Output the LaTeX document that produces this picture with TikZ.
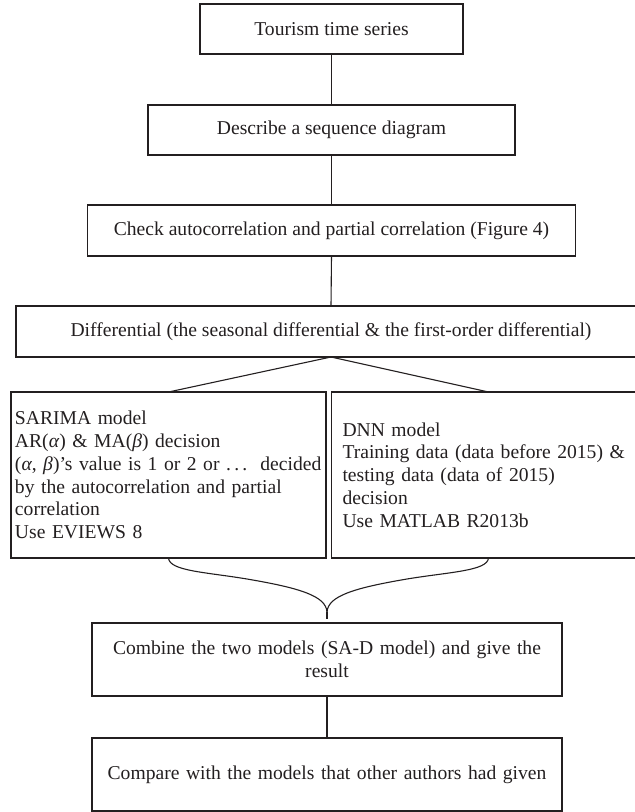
\documentclass[tikz,border=0pt]{standalone}
\usepackage{fontspec}
\setmainfont{Liberation Serif}
\definecolor{ink}{RGB}{35,31,32}
\begin{document}
\begin{tikzpicture}[x=1pt,y=-1pt,
  box/.style={draw=ink, line width=1.1pt, inner sep=0pt, outer sep=0pt, text=ink,
    font=\fontsize{19.6}{22.8}\selectfont, align=center},
  lbox/.style={box, align=left, minimum height=166pt},
  conn/.style={draw=ink, line width=1.1pt}]
\useasboundingbox (0,0) rectangle (635,812);
\clip (0,0) rectangle (635,812);
\node[box, minimum width=263pt, minimum height=50pt] (b1) at (331.5,29) {Tourism time series};
\node[box, minimum width=367pt, minimum height=50pt] (b2) at (331.5,130) {Describe a sequence diagram};
\node[box, minimum width=488pt, minimum height=51pt] (b3) at (331.5,230.5) {Check autocorrelation and partial correlation (Figure 4)};
\node[box, minimum width=630pt, minimum height=51pt] (b4) at (331,331.5) {Differential (the seasonal differential \& the first-order differential)};
\node[lbox, inner xsep=4pt, text width=307pt] (sar) at (168.5,475) {SARIMA model\\
AR(\textit{α}) \& MA(\textit{β}) decision\\
(\textit{α}, \textit{β})’s value is 1 or 2 or .\,.\,.\ \ decided\\
by the autocorrelation and partial\\
correlation\\
Use EVIEWS 8};
\node[lbox, inner xsep=11pt, text width=292pt] (dnn) at (488.5,475) {DNN model\\
Training data (data before 2015) \&\\
testing data (data of 2015)\\
decision\\
Use MATLAB R2013b};
\node[box, minimum width=470pt, minimum height=73pt, text width=460pt] (b5) at (327,659.5) {Combine the two models (SA-D model) and give the\\ result};
\node[box, minimum width=470pt, minimum height=73pt, text width=460pt] (b6) at (327,774.5) {Compare with the models that other authors had given};
\coordinate (tip) at (327,612);
\coordinate (stem) at (327,619);
\draw[conn] (b1.south) -- (b2.north);
\draw[conn] (b2.south) -- (b3.north);
\draw[conn] (b3.south) -- (b4.north);
\draw[conn] (b4.south) -- (sar.north);
\draw[conn] (b4.south) -- (dnn.north);
\draw[conn] (sar.south) .. controls +(1,13) and (205,572) .. (247,579) .. controls (300,588) and (326,596) .. (tip);
\draw[conn] (dnn.south) .. controls +(-1,13) and (449,572) .. (407,579) .. controls (354,588) and (328,596) .. (tip);
\draw[conn] (tip) -- (stem);
\draw[conn] (b5.south) -- (b6.north);
\end{tikzpicture}
\end{document}
